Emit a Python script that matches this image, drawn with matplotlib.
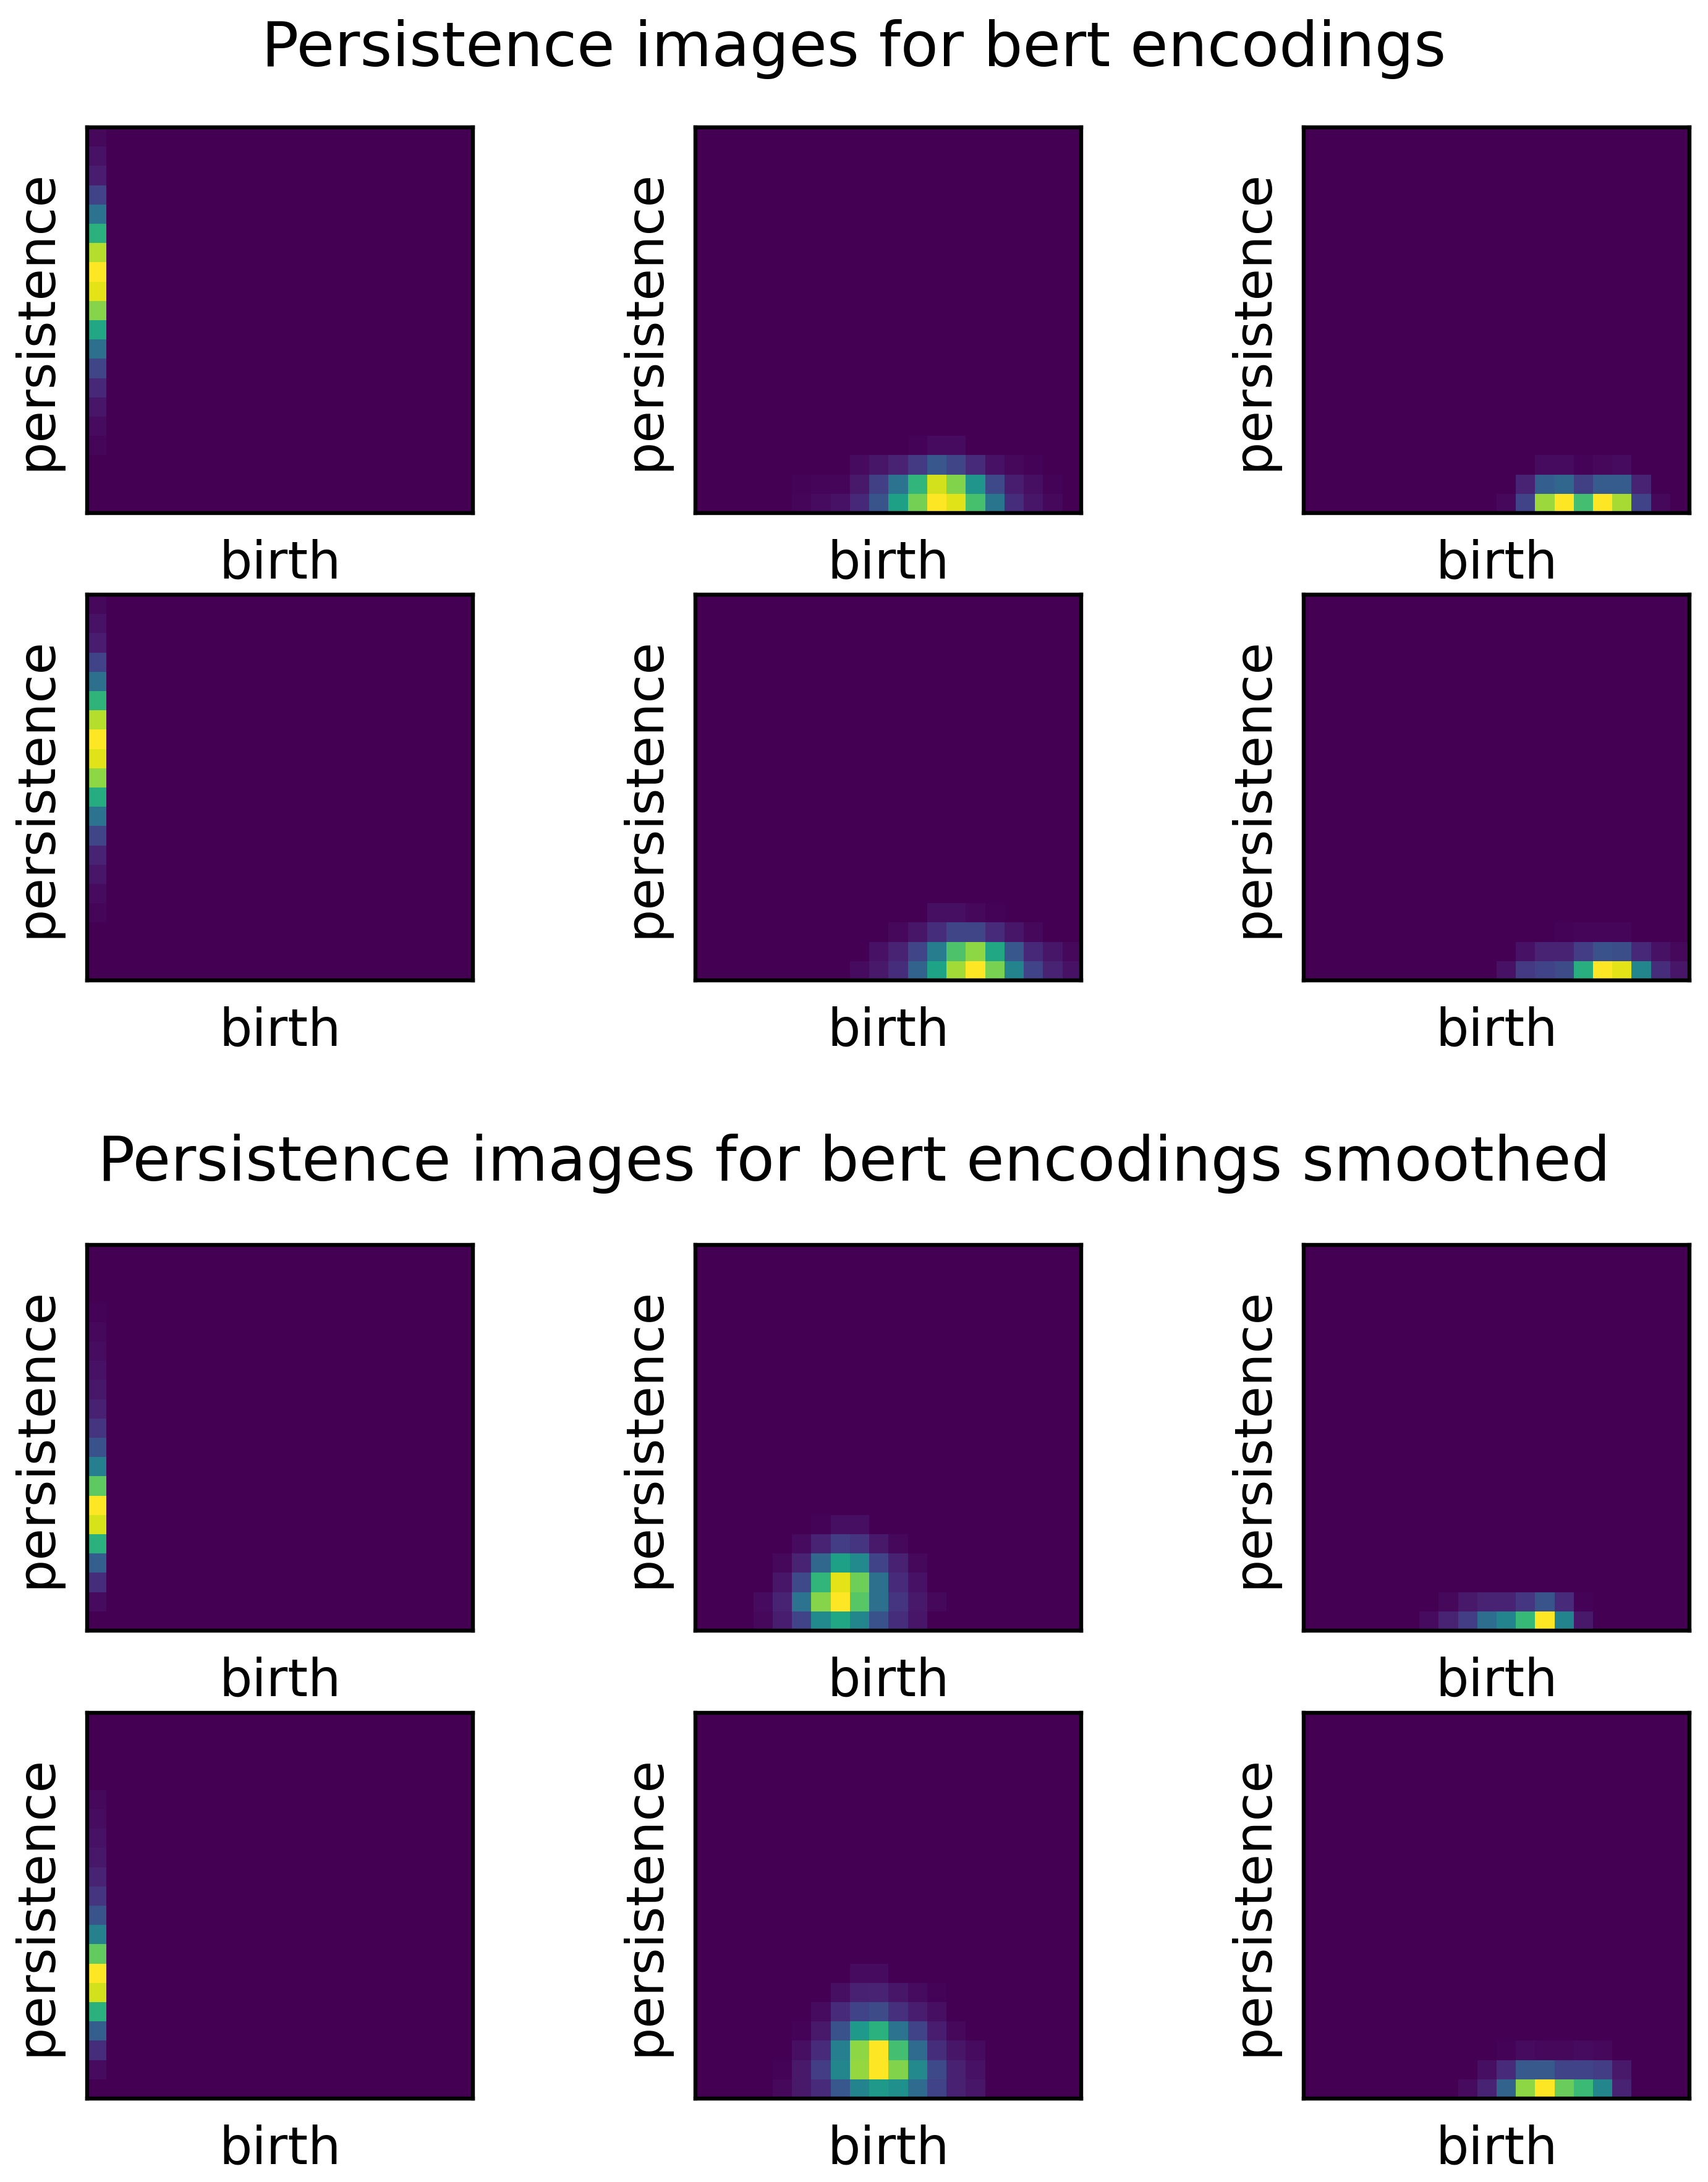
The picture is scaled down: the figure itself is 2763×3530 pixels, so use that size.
import matplotlib

matplotlib.use("Agg")
import matplotlib.pyplot as plt
import numpy as np

GRID = 20

titles = ["Persistence images for bert encodings",
          "Persistence images for bert encodings smoothed"]

# each panel: (first row, first col, block of values), rows counted from top
raw_a = (0, 0, [[v] for v in [0.02, 0.05, 0.08, 0.2, 0.38, 0.64, 0.89, 1.0, 0.96,
                              0.82, 0.6, 0.37, 0.21, 0.11, 0.06, 0.03, 0.015]])
raw_b = (16, 5, [
    [0, 0, 0, 0, 0, 0, 0.01, 0.03, 0.03, 0, 0, 0, 0, 0],
    [0, 0, 0, 0.03, 0.06, 0.1, 0.17, 0.27, 0.21, 0.12, 0.05, 0.02, 0.01, 0],
    [0.01, 0.015, 0.015, 0.07, 0.19, 0.38, 0.66, 0.93, 0.81, 0.52, 0.22, 0.08, 0.04, 0.01],
    [0.015, 0.03, 0.05, 0.11, 0.26, 0.57, 0.79, 1.0, 0.95, 0.71, 0.39, 0.13, 0.06, 0.02],
])
raw_c = (17, 10, [
    [0, 0, 0.03, 0.03, 0.01, 0.02, 0.03, 0, 0],
    [0, 0.1, 0.3, 0.33, 0.19, 0.29, 0.29, 0.1, 0],
    [0.02, 0.2, 0.85, 1.0, 0.7, 1.0, 0.87, 0.2, 0.02],
])
raw_d = (0, 0, [[v] for v in [0.02, 0.05, 0.08, 0.2, 0.37, 0.65, 0.89, 1.0, 0.95,
                              0.83, 0.62, 0.38, 0.21, 0.1, 0.06, 0.03, 0.015]])
raw_e = (16, 8, [
    [0, 0, 0, 0, 0.04, 0.04, 0.02, 0.01, 0, 0, 0, 0],
    [0, 0, 0.02, 0.06, 0.13, 0.21, 0.21, 0.12, 0.06, 0.02, 0, 0],
    [0, 0.05, 0.1, 0.21, 0.42, 0.72, 0.83, 0.6, 0.27, 0.11, 0.06, 0.02],
    [0.03, 0.07, 0.13, 0.32, 0.58, 0.86, 1.0, 0.8, 0.45, 0.2, 0.1, 0.05],
])
raw_f = (17, 10, [
    [0, 0, 0, 0.01, 0.015, 0.015, 0.015, 0, 0, 0],
    [0, 0.05, 0.1, 0.1, 0.18, 0.25, 0.24, 0.11, 0.05, 0.02],
    [0.05, 0.17, 0.2, 0.23, 0.63, 1.0, 0.96, 0.46, 0.13, 0.06],
])

smooth_a = (3, 0, [[v] for v in [0.01, 0.02, 0.035, 0.05, 0.065, 0.09, 0.15, 0.25,
                                 0.43, 0.75, 1.0, 0.94, 0.64, 0.3, 0.13, 0.03]])
smooth_b = (14, 3, [
    [0, 0, 0, 0.01, 0.04, 0.04, 0, 0, 0, 0],
    [0, 0, 0.03, 0.1, 0.18, 0.15, 0.07, 0.02, 0, 0],
    [0, 0.02, 0.1, 0.33, 0.57, 0.48, 0.2, 0.09, 0.02, 0],
    [0, 0.06, 0.22, 0.66, 0.96, 0.78, 0.37, 0.12, 0.05, 0],
    [0.03, 0.1, 0.38, 0.82, 1.0, 0.74, 0.37, 0.15, 0.07, 0.02],
    [0.02, 0.08, 0.2, 0.48, 0.6, 0.46, 0.25, 0.13, 0.06, 0],
])
smooth_c = (18, 6, [
    [0, 0.02, 0.07, 0.1, 0.1, 0.16, 0.26, 0.12, 0.01],
    [0.03, 0.1, 0.18, 0.36, 0.45, 0.67, 1.0, 0.45, 0.07],
])
smooth_d = (4, 0, [[v] for v in [0.02, 0.035, 0.05, 0.065, 0.1, 0.15, 0.26, 0.44,
                                 0.76, 1.0, 0.93, 0.64, 0.3, 0.13, 0.03]])
smooth_e = (13, 4, [
    [0, 0, 0, 0, 0.03, 0.03, 0, 0, 0, 0, 0],
    [0, 0, 0, 0.04, 0.09, 0.1, 0.06, 0.03, 0.01, 0, 0],
    [0, 0, 0.03, 0.12, 0.2, 0.23, 0.14, 0.08, 0.04, 0, 0],
    [0, 0.01, 0.07, 0.25, 0.54, 0.64, 0.38, 0.2, 0.08, 0.02, 0],
    [0, 0.04, 0.12, 0.43, 0.83, 1.0, 0.7, 0.35, 0.13, 0.06, 0.03],
    [0.01, 0.07, 0.18, 0.46, 0.84, 1.0, 0.81, 0.47, 0.22, 0.09, 0.05],
    [0.02, 0.07, 0.12, 0.27, 0.45, 0.54, 0.5, 0.35, 0.2, 0.09, 0.06],
])
smooth_f = (17, 8, [
    [0, 0, 0.01, 0.03, 0.02, 0.02, 0.03, 0.02, 0],
    [0, 0.04, 0.12, 0.28, 0.28, 0.2, 0.2, 0.18, 0.07],
    [0.03, 0.1, 0.32, 0.83, 1.0, 0.77, 0.68, 0.46, 0.1],
])

groups = [
    [raw_a, raw_b, raw_c, raw_d, raw_e, raw_f],
    [smooth_a, smooth_b, smooth_c, smooth_d, smooth_e, smooth_f],
]


def build_image(spec):
    row0, col0, block = spec
    block = np.asarray(block, dtype=float)
    img = np.zeros((GRID, GRID))
    img[row0:row0 + block.shape[0], col0:col0 + block.shape[1]] = block
    return img


W, H = 2763, 3530
DPI = 288
fig = plt.figure(figsize=(W / DPI, H / DPI), dpi=DPI)

col_left = [141, 1125, 2109]
row_top = [[206, 962], [2014, 2771]]
size = 624
title_y = [80, 1882]

for g, specs in enumerate(groups):
    fig.text(0.5, 1 - title_y[g] / H, titles[g], ha="center", va="center", fontsize=25)
    for k, spec in enumerate(specs):
        r, c = divmod(k, 3)
        left = col_left[c] / W
        bottom = 1 - (row_top[g][r] + size) / H
        ax = fig.add_axes([left, bottom, size / W, size / H])
        ax.imshow(build_image(spec), cmap="viridis", interpolation="nearest", aspect="auto")
        ax.set_xticks([])
        ax.set_yticks([])
        for sp in ax.spines.values():
            sp.set_linewidth(1.6)
        ax.set_xlabel("birth", fontsize=21, labelpad=10.5)
        ax.set_ylabel("persistence", fontsize=21, labelpad=10.5)

fig.savefig("out.png", dpi=DPI)
